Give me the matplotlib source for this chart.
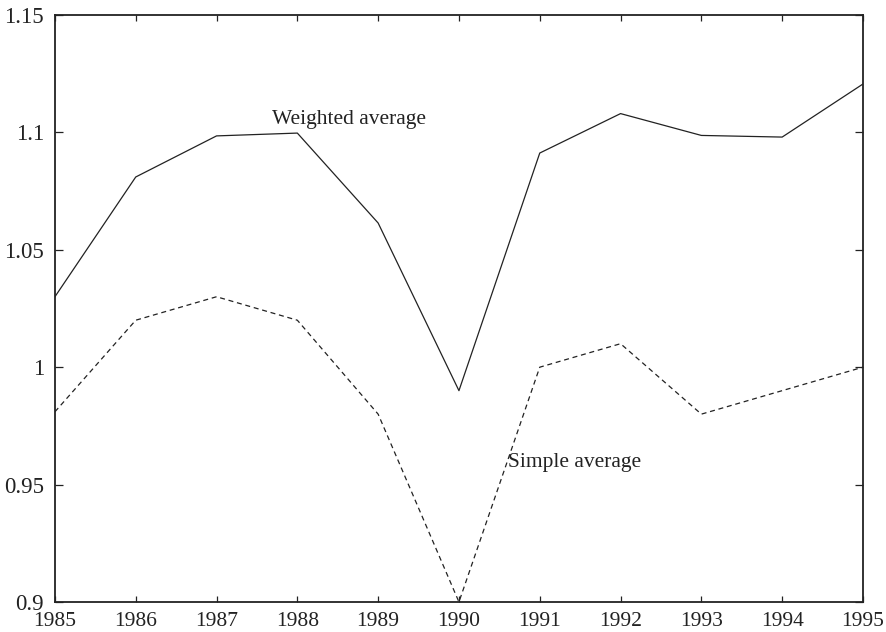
import matplotlib
matplotlib.use('Agg')
import matplotlib.pyplot as plt

years = [1985, 1986, 1987, 1988, 1989, 1990, 1991, 1992, 1993, 1994, 1995]
weighted = [1.030, 1.081, 1.0985, 1.0997, 1.0614, 0.990, 1.0912, 1.108, 1.0987, 1.098, 1.1206]
simple = [0.981, 1.02, 1.03, 1.02, 0.98, 0.90, 1.00, 1.01, 0.98, 0.99, 1.00]

yticks = [0.9, 0.95, 1.0, 1.05, 1.1, 1.15]
ytick_labels = ['0.9', '0.95', '1', '1.05', '1.1', '1.15']

plt.rcParams['font.family'] = ['Liberation Serif', 'DejaVu Serif']
ink = '#222222'

fig = plt.figure(figsize=(8.86, 6.32), dpi=100)
ax = fig.add_axes([0.062, 0.0475, 0.912, 0.9288])

ax.plot(years, weighted, color=ink, linewidth=0.9)
ax.plot(years, simple, color=ink, linewidth=0.9, linestyle=(0, (4, 3)))

ax.text(1988.64, 1.1053, 'Weighted average', fontsize=15.5, color=ink, ha='center', va='center')
ax.text(1991.43, 0.9596, 'Simple average', fontsize=15.5, color=ink, ha='center', va='center')

ax.set_xlim(1985, 1995)
ax.set_ylim(0.9, 1.15)
ax.set_xticks(years)
ax.set_xticklabels([str(y) for y in years])
ax.set_yticks(yticks)
ax.set_yticklabels(ytick_labels)

for s in ax.spines.values():
    s.set_linewidth(1.3)
    s.set_color(ink)
ax.tick_params(axis='x', direction='in', top=True, length=4, width=0.9, pad=7.5,
               labelsize=15.5, colors=ink)
ax.tick_params(axis='y', direction='in', right=True, length=6, width=0.9, pad=8,
               labelsize=16.5, colors=ink)

fig.savefig('out.png', dpi=100)
